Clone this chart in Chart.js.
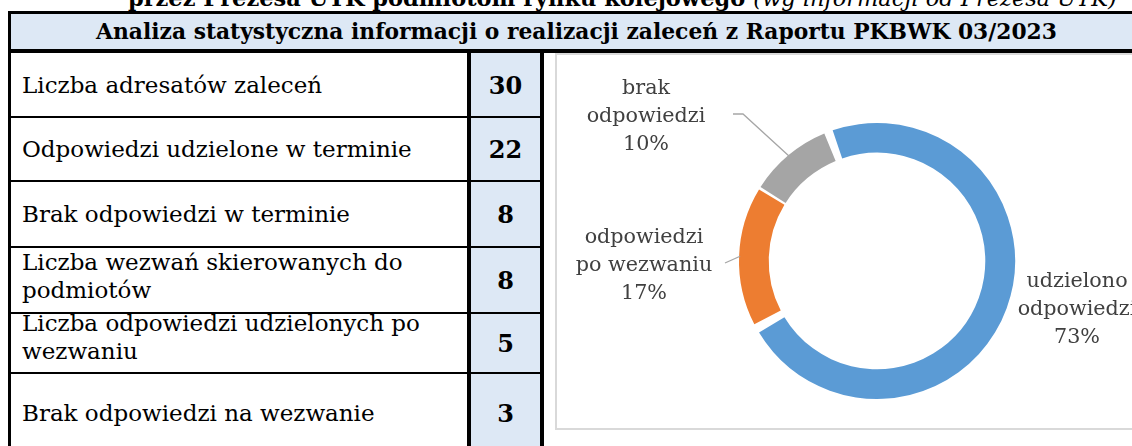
<!DOCTYPE html>
<html>
<head>
<meta charset="utf-8">
<script src="https://cdn.jsdelivr.net/npm/chart.js@4/dist/chart.umd.min.js"></script>
<style>
body { margin: 0; width: 1132px; height: 446px; overflow: hidden; background: #fff; position: relative; font-family: "DejaVu Serif", serif; color: #000; }
.title { position: absolute; left: 128px; top: -15px; font-size: 22.5px; line-height: 26px; font-weight: bold; white-space: nowrap; }
.title i { font-weight: normal; }
.frame { position: absolute; left: 8px; top: 11px; width: 1140px; height: 460px; border: 3px solid #000; box-sizing: border-box; }
.head { position: absolute; left: 11px; top: 14px; width: 1140px; height: 35px; background: #dde8f5; border-bottom: 4px solid #000; text-align: center; font-weight: bold; font-size: 21.8px; line-height: 35px; white-space: nowrap; }
.head span { position: absolute; left: 0; width: 1131px; }
.lbl { position: absolute; left: 11px; width: 456px; box-sizing: border-box; padding-left: 11px; font-size: 23px; line-height: 28px; display: flex; align-items: center; }
.val { position: absolute; left: 471px; width: 69px; background: #dde8f5; font-size: 24px; font-weight: bold; display: flex; align-items: center; justify-content: center; }
.sep { position: absolute; left: 11px; width: 529px; height: 2px; background: #000; }
.vline { position: absolute; top: 53px; width: 4px; height: 400px; background: #000; }
.chartbox { position: absolute; left: 555px; top: 53px; width: 620px; height: 377px; border: 2px solid #d9d9d9; box-sizing: border-box; }
#pie { position: absolute; left: 557px; top: 55px; }
</style>
</head>
<body>
<div class="title">przez Prezesa UTK podmiotom rynku kolejowego <i>(wg informacji od Prezesa UTK)</i></div>
<div class="frame"></div>
<div class="head"><span>Analiza statystyczna informacji o realizacji zaleceń z Raportu PKBWK 03/2023</span></div>
<div id="rows"></div>
<div class="vline" style="left:467px"></div>
<div class="vline" style="left:540px"></div>
<div class="chartbox"></div>
<canvas id="pie" width="600" height="374"></canvas>
<script>
// table data
const rowLabels = [
    'Liczba adresatów zaleceń',
    'Odpowiedzi udzielone w terminie',
    'Brak odpowiedzi w terminie',
    'Liczba wezwań skierowanych do podmiotów',
    'Liczba odpowiedzi udzielonych po wezwaniu',
    'Brak odpowiedzi na wezwanie'
];
const rowValues = [30, 22, 8, 8, 5, 3];

// doughnut data
const sliceLabels = [
    ['udzielono', 'odpowiedzi'],
    ['odpowiedzi', 'po wezwaniu'],
    ['brak', 'odpowiedzi']
];
const sliceValues = [22, 5, 3];
const sliceColors = ['#5b9bd5', '#ed7d31', '#a5a5a5'];

// layout of rows (top y, height) and label placement around the ring
const rowTops = [53, 117, 181, 247, 313, 373];
const rowHeights = [64, 64, 66, 66, 60, 80];
const rowShift = [0, 0, 0, -4, -6, 0];
const labelOffsets = [[200, 49], [-233, 5], [-231, -144]];
const leaderPaths = [null, [[-152, 2]], [[-144, -147], [-134, -147]]];

function buildRows() {
    const rows = document.getElementById('rows');
    let html = '';
    rowLabels.forEach((label, i) => {
        const top = rowTops[i], h = rowHeights[i];
        html += `<div class="lbl" style="top:${top + rowShift[i]}px;height:${h}px">${label}</div>`;
        html += `<div class="val" style="top:${top}px;height:${h}px">${rowValues[i]}</div>`;
        if (i > 0) html += `<div class="sep" style="top:${top - 1}px"></div>`;
    });
    rows.innerHTML = html;
}
buildRows();

const sliceLabelPlugin = {
    id: 'sliceLabels',
    afterDatasetsDraw(chart) {
        const ctx = chart.ctx;
        const meta = chart.getDatasetMeta(0);
        const total = sliceValues.reduce((a, b) => a + b, 0);
        ctx.save();
        meta.data.forEach((arc, i) => {
            const p = arc.getProps(['x', 'y', 'startAngle', 'endAngle', 'outerRadius']);
            const mid = (p.startAngle + p.endAngle) / 2;
            // leader line
            if (leaderPaths[i]) {
                ctx.strokeStyle = '#a6a6a6';
                ctx.lineWidth = 1.3;
                ctx.beginPath();
                leaderPaths[i].forEach((pt, k) => {
                    const fn = k === 0 ? 'moveTo' : 'lineTo';
                    ctx[fn](p.x + pt[0], p.y + pt[1]);
                });
                ctx.lineTo(p.x + Math.cos(mid) * (p.outerRadius + 2), p.y + Math.sin(mid) * (p.outerRadius + 2));
                ctx.stroke();
            }
            const lines = sliceLabels[i].concat(Math.round(sliceValues[i] / total * 100) + '%');
            const cx = p.x + labelOffsets[i][0];
            const cy = p.y + labelOffsets[i][1];
            ctx.fillStyle = '#404040';
            ctx.font = '20.7px "DejaVu Serif", serif';
            ctx.textAlign = 'center';
            ctx.textBaseline = 'middle';
            lines.forEach((t, k) => ctx.fillText(t, cx, cy + (k - 1) * 28));
        });
        ctx.restore();
    }
};

new Chart(document.getElementById('pie'), {
    type: 'doughnut',
    data: {
        labels: sliceLabels.map(l => l.join(' ')),
        datasets: [{
            data: sliceValues,
            backgroundColor: sliceColors,
            borderWidth: 0,
            spacing: 6
        }]
    },
    options: {
        responsive: false,
        animation: false,
        rotation: -22,
        cutout: '78%',
        layout: { padding: { left: 182, top: 68, right: 142, bottom: 30 } },
        plugins: {
            legend: { display: false },
            tooltip: { enabled: false }
        }
    },
    plugins: [sliceLabelPlugin]
});
</script>
</body>
</html>
